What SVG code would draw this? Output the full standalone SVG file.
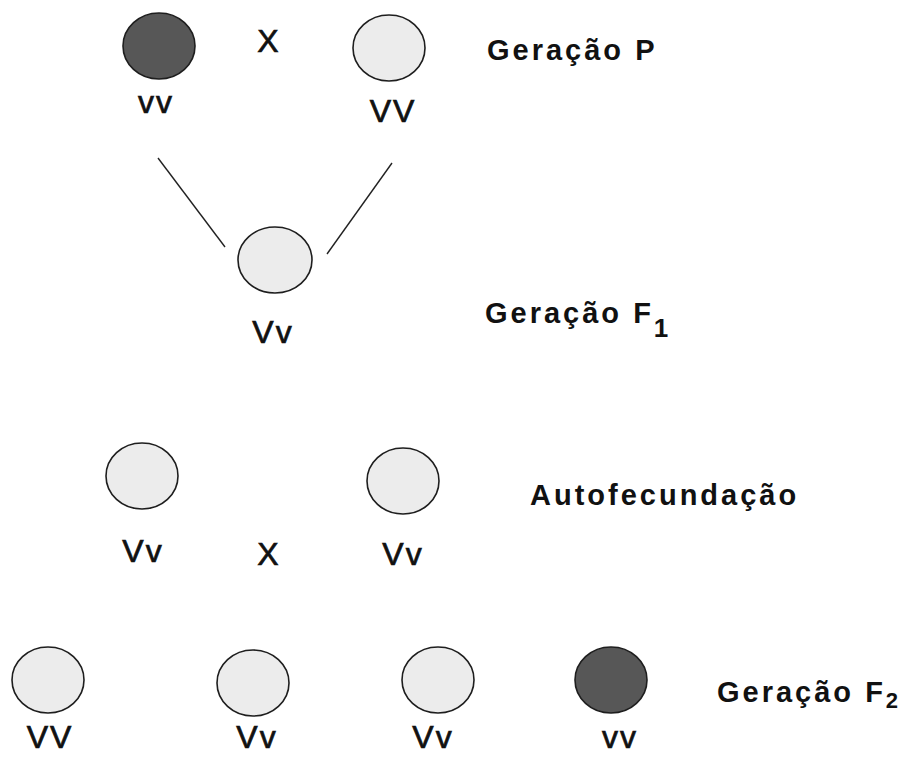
<svg xmlns="http://www.w3.org/2000/svg" width="908" height="757" viewBox="0 0 908 757">
<style>
.dark{fill:#575757;stroke:#1e1e1e;stroke-width:1.6}
.light{fill:#ececec;stroke:#1e1e1e;stroke-width:1.6}
.g{font-family:"Liberation Sans",Arial,sans-serif;font-size:32px;fill:#111;stroke:#111;stroke-width:0.7;text-anchor:middle;letter-spacing:2px}
.lbl{font-family:"Liberation Sans",Arial,sans-serif;font-size:29px;font-weight:bold;fill:#111;letter-spacing:3px}
.con{stroke:#222;stroke-width:1.4;fill:none}
</style>
<rect width="908" height="757" fill="#fff"/>
<g id="connectors">
<line class="con" x1="158" y1="158" x2="225" y2="247"/>
<line class="con" x1="392" y1="163" x2="327" y2="254"/>
</g>
<g id="p-vv"><ellipse class="dark" cx="159" cy="46" rx="36" ry="33"/><text class="g" x="156" y="113">vv</text></g>
<g id="p-x"><text class="g" x="268" y="52" style="letter-spacing:0">X</text></g>
<g id="p-VV"><ellipse class="light" cx="389" cy="48" rx="36" ry="33"/><text class="g" x="393" y="122">VV</text></g>
<g id="label-p"><text class="lbl" x="487" y="60">Geração P</text></g>
<g id="f1-Vv"><ellipse class="light" cx="275" cy="260" rx="37" ry="33"/><text class="g" x="273" y="343">Vv</text></g>
<g id="label-f1"><text class="lbl" x="485" y="323">Geração F<tspan dy="14" font-size="26">1</tspan></text></g>
<g id="a-Vv1"><ellipse class="light" cx="142" cy="476" rx="36" ry="33"/><text class="g" x="143" y="562">Vv</text></g>
<g id="a-x"><text class="g" x="268" y="565" style="letter-spacing:0">X</text></g>
<g id="a-Vv2"><ellipse class="light" cx="403" cy="481" rx="36" ry="33"/><text class="g" x="403" y="565">Vv</text></g>
<g id="label-auto"><text class="lbl" x="530" y="505">Autofecundação</text></g>
<g id="f2-VV"><ellipse class="light" cx="48" cy="680" rx="36" ry="33"/><text class="g" x="50" y="748">VV</text></g>
<g id="f2-Vv1"><ellipse class="light" cx="253" cy="683" rx="36" ry="33"/><text class="g" x="257" y="748">Vv</text></g>
<g id="f2-Vv2"><ellipse class="light" cx="438" cy="680" rx="36" ry="33"/><text class="g" x="433" y="748">Vv</text></g>
<g id="f2-vv"><ellipse class="dark" cx="611" cy="680" rx="36" ry="33"/><text class="g" x="620" y="748">vv</text></g>
<g id="label-f2"><text class="lbl" x="717" y="702">Geração F<tspan dy="6" font-size="22">2</tspan></text></g>
</svg>
